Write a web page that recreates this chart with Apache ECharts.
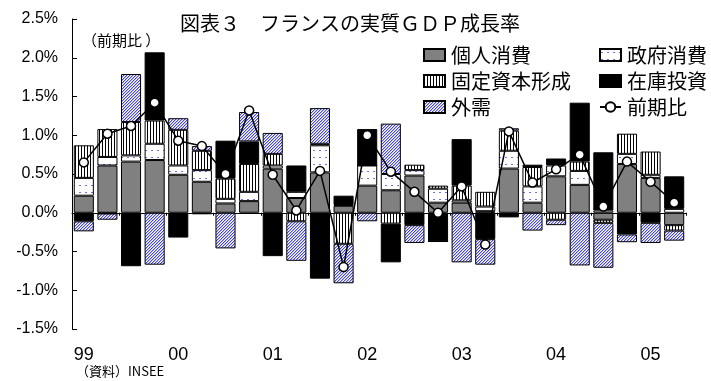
<!DOCTYPE html>
<html>
<head>
<meta charset="utf-8">
<script src="https://cdn.jsdelivr.net/npm/echarts@6/dist/echarts.min.js"></script>
<style>
  html, body { margin: 0; padding: 0; background: #fff; }
  #chart { width: 711px; height: 381px; }
</style>
</head>
<body>
<div id="chart"></div>
<script>
// 四半期（1999年1Q〜2005年2Q）
var quarters = ["99Q1","99Q2","99Q3","99Q4","00Q1","00Q2","00Q3","00Q4",
  "01Q1","01Q2","01Q3","01Q4","02Q1","02Q2","02Q3","02Q4",
  "03Q1","03Q2","03Q3","03Q4","04Q1","04Q2","04Q3","04Q4","05Q1","05Q2"];
var xLabels = ["99","","","","00","","","","01","","","","02","","","",
  "03","","","","04","","","","05",""];
var yTicks = { min: -1.5, max: 2.5, step: 0.5 };

// 寄与度（%）
var kojin = [0.22,0.61,0.66,0.68,0.49,0.40,0.12,0.15,0.57,0.19,0.52,0.09,0.35,
  0.29,0.48,0.13,0.13,0.02,0.57,0.13,0.47,0.36,-0.09,0.63,0.45,-0.16];
var seifu = [0.23,0.11,0.08,0.21,0.12,0.15,0.06,0.12,0.04,0.08,0.35,0.01,0.26,
  0.21,0.07,0.18,0.03,0.06,0.23,0.21,0.14,0.18,0.03,0.13,0.04,0.05];
var kotei = [0.42,0.36,0.43,0.30,0.46,0.25,0.26,0.36,0.15,-0.11,0.02,-0.40,0,
  -0.14,0.07,0.04,0.19,0.19,0.26,0.25,-0.09,0.12,-0.04,0.26,0.30,-0.07];
var zaiko = [-0.11,-0.01,-0.69,0.88,-0.32,-0.02,0.49,0.29,-0.56,0.34,-0.85,0.12,0.47,
  -0.50,-0.16,-0.37,0.60,-0.34,-0.06,0.03,0.09,0.76,0.75,-0.28,-0.13,0.42];
var gaiju = [-0.13,-0.08,0.62,-0.67,0.15,0.06,-0.46,0.38,0.27,-0.51,0.46,-0.51,-0.11,
  0.65,-0.23,0,-0.64,-0.33,0.03,-0.23,-0.07,-0.68,-0.58,-0.10,-0.26,-0.13];
var zenki = [0.65,1.02,1.12,1.42,0.93,0.86,0.50,1.32,0.49,0.03,0.54,-0.70,1.00,
  0.53,0.27,0.00,0.34,-0.41,1.05,0.39,0.56,0.75,0.08,0.66,0.40,0.13];

// 模様を作る
function makePattern(w, h, draw) {
  var c = document.createElement("canvas");
  c.width = w; c.height = h;
  var ctx = c.getContext("2d");
  ctx.fillStyle = "#fff";
  ctx.fillRect(0, 0, w, h);
  draw(ctx);
  return { image: c, repeat: "repeat" };
}
var dotPat = makePattern(6, 7, function(ctx) {
  ctx.fillStyle = "#6f6fe8";
  ctx.fillRect(1, 3, 2, 1);
});
var stripePat = makePattern(3, 3, function(ctx) {
  ctx.fillStyle = "#000";
  ctx.fillRect(0, 0, 1, 3);
});
var hatchPat = makePattern(3, 3, function(ctx) {
  for (var x = 0; x < 3; x++) {
    for (var y = 0; y < 3; y++) {
      var k = (x + y) % 3;
      if (k == 0) { ctx.fillStyle = "#4646d6"; ctx.fillRect(x, y, 1, 1); }
      else if (k == 1) { ctx.fillStyle = "#b8b8f2"; ctx.fillRect(x, y, 1, 1); }
    }
  }
});

var font = "Noto Sans CJK JP";

function barSeries(name, data, fill) {
  return {
    name: name,
    type: "bar",
    stack: "total",
    barCategoryGap: "15%",
    data: data,
    itemStyle: { color: fill, borderColor: "#000", borderWidth: 1 }
  };
}

function legendItems(names) {
  return names.map(function(n) {
    return n == "前期比" ? { name: n } : { name: n, icon: "rect" };
  });
}

var chart = echarts.init(document.getElementById("chart"));
chart.setOption({
  animation: false,
  textStyle: { fontFamily: font },
  title: {
    text: "図表３　フランスの実質ＧＤＰ成長率",
    left: 175,
    top: 8,
    textStyle: { fontSize: 20, fontWeight: "normal", color: "#000", fontFamily: font }
  },
  legend: [
    {
      data: legendItems(["個人消費", "固定資本形成", "外需"]),
      orient: "vertical",
      left: 418,
      top: 40,
      itemWidth: 21,
      itemHeight: 12,
      itemGap: 6,
      textStyle: { fontSize: 20, color: "#000", fontFamily: font, padding: [0, 0, 0, 1] }
    },
    {
      data: legendItems(["政府消費", "在庫投資", "前期比"]),
      orient: "vertical",
      left: 594,
      top: 40,
      itemWidth: 21,
      itemHeight: 12,
      itemGap: 6,
      textStyle: { fontSize: 20, color: "#000", fontFamily: font, padding: [0, 0, 0, 1] }
    }
  ],
  grid: { left: 72, right: 25, top: 19, bottom: 52, containLabel: false, outerBoundsMode: "none" },
  xAxis: [
    {
      type: "category",
      data: quarters,
      axisLine: { onZero: true, lineStyle: { color: "#000", width: 1 } },
      axisTick: { show: true, length: 3, lineStyle: { color: "#000" } },
      axisLabel: { show: false },
      splitLine: { show: false }
    },
    {
      type: "category",
      data: quarters,
      position: "bottom",
      axisLine: { show: false, onZero: false },
      axisTick: { show: false },
      axisLabel: {
        interval: 0,
        margin: 17,
        fontSize: 18,
        color: "#000",
        fontFamily: "Liberation Sans",
        formatter: function(v, i) { return xLabels[i]; }
      },
      splitLine: { show: false }
    }
  ],
  yAxis: {
    type: "value",
    min: yTicks.min,
    max: yTicks.max,
    interval: yTicks.step,
    axisLine: { show: true, lineStyle: { color: "#000" } },
    axisTick: { show: true, inside: true, length: 5, lineStyle: { color: "#000" } },
    splitLine: { show: false },
    axisLabel: {
      margin: 14,
      fontSize: 16,
      color: "#000",
      fontFamily: "Liberation Sans",
      formatter: function(v) { return v.toFixed(1) + "%"; }
    }
  },
  graphic: [
    {
      type: "text",
      left: 82,
      top: 33,
      style: { text: "（前期比 ）", fill: "#000", fontSize: 15, fontFamily: font }
    },
    {
      type: "text",
      left: 76,
      top: 365,
      style: { text: "（資料）INSEE", fill: "#000", fontSize: 13, fontFamily: font }
    }
  ],
  series: [
    barSeries("個人消費", kojin, "#808080"),
    barSeries("政府消費", seifu, dotPat),
    barSeries("固定資本形成", kotei, stripePat),
    barSeries("在庫投資", zaiko, "#000"),
    barSeries("外需", gaiju, hatchPat),
    {
      name: "前期比",
      type: "line",
      data: zenki,
      z: 5,
      symbol: "circle",
      symbolSize: 9,
      lineStyle: { color: "#000", width: 1.5 },
      itemStyle: { color: "#fff", borderColor: "#000", borderWidth: 1.5 }
    }
  ]
});
</script>
</body>
</html>
